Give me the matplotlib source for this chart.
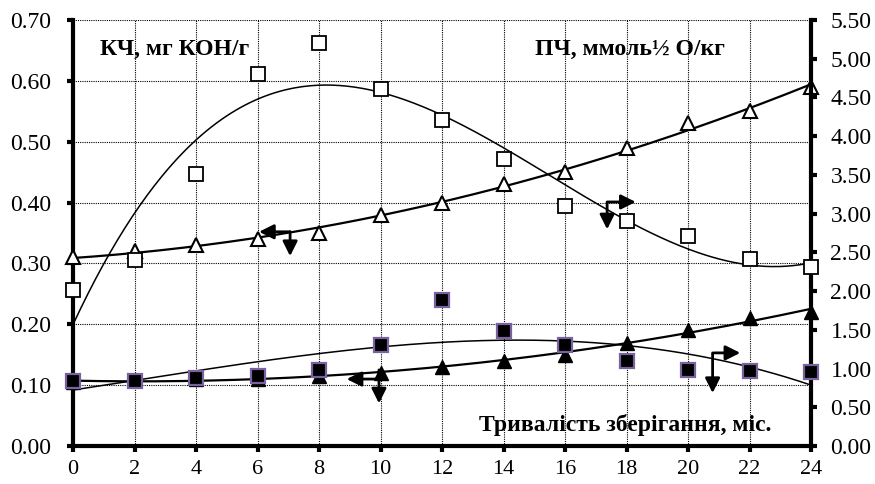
import numpy as np
import matplotlib
matplotlib.use("Agg")
import matplotlib.pyplot as plt

# ---- data ----
months = [0, 2, 4, 6, 8, 10, 12, 14, 16, 18, 20, 22, 24]
# acid value (left axis), open triangles
kch_open = [0.31, 0.32, 0.33, 0.34, 0.35, 0.38, 0.40, 0.43, 0.45, 0.49, 0.53, 0.55, 0.59]
# acid value (left axis), filled triangles
kch_filled = [0.105, 0.108, 0.11, 0.11, 0.115, 0.12, 0.13, 0.14, 0.15, 0.17, 0.19, 0.21, 0.22]
# peroxide value (right axis), open squares
pch_open = [2.01, 2.40, 3.51, 4.80, 5.20, 4.61, 4.21, 3.71, 3.10, 2.90, 2.71, 2.41, 2.31]
# peroxide value (right axis), filled squares
pch_filled = [0.84, 0.84, 0.88, 0.91, 0.98, 1.31, 1.89, 1.49, 1.30, 1.10, 0.98, 0.97, 0.96]

left_ticks = [0.0, 0.1, 0.2, 0.3, 0.4, 0.5, 0.6, 0.7]
right_ticks = [0.0, 0.5, 1.0, 1.5, 2.0, 2.5, 3.0, 3.5, 4.0, 4.5, 5.0, 5.5]
x_ticks = months

label_left = "КЧ, мг КОН/г"
label_right = "ПЧ, ммоль½ О/кг"
label_x = "Тривалість зберігання, міс."

plt.rcParams['font.family'] = ['Liberation Serif', 'DejaVu Serif']

fig = plt.figure(figsize=(8.75, 4.84), dpi=100)
ax = fig.add_axes([73/875, 1-446/484, (811-73)/875, (446-20)/484])
ax2 = ax.twinx()

x = np.array(months, dtype=float)
xs = np.linspace(0, 24, 300)

def trend(y, deg):
    c = np.polyfit(x, np.array(y, dtype=float), deg)
    return np.polyval(c, xs)

ax.set_xlim(0, 24)
ax.set_ylim(0, 0.7)
ax2.set_ylim(0, 5.5)

# grid
for xv in x_ticks:
    ax.axvline(xv, color='black', lw=0.8, ls=(0, (1, 1)), zorder=0)
for yv in left_ticks:
    ax.axhline(yv, color='black', lw=0.8, ls=(0, (1, 1)), zorder=0)

# left axis series
ax.plot(xs, trend(kch_open, 2), color='black', lw=1.6, zorder=3)
ax.plot(x, kch_open, ls='none', marker='^', ms=10, mfc='white', mec='black', mew=1.5, clip_on=False, zorder=4)
ax.plot(xs, trend(kch_filled, 2), color='black', lw=1.6, zorder=3)
ax.plot(x, kch_filled, ls='none', marker='^', ms=10, mfc='black', mec='black', clip_on=False, zorder=4)

# right axis series
ax2.plot(xs, trend(pch_open, 3), color='black', lw=1.1, zorder=3)
ax2.plot(x, pch_open, ls='none', marker='s', ms=9.5, mfc='white', mec='black', mew=1.3, clip_on=False, zorder=4)
ax2.plot(xs, trend(pch_filled, 3), color='black', lw=1.1, zorder=3)
ax2.plot(x, pch_filled, ls='none', marker='s', ms=10, mfc='black', mec='#7a62a0', mew=1.6, clip_on=False, zorder=5)

# arrows (left axis coordinates)
ap = dict(arrowstyle='-|>', lw=2, color='black', mutation_scale=22, shrinkA=0, shrinkB=0)
ax.annotate('', xy=(6.05, 0.352), xytext=(7.06, 0.352), arrowprops=ap)
ax.annotate('', xy=(7.06, 0.312), xytext=(7.06, 0.352), arrowprops=ap)
ax.annotate('', xy=(18.3, 0.401), xytext=(17.4, 0.401), arrowprops=ap)
ax.annotate('', xy=(17.37, 0.356), xytext=(17.37, 0.401), arrowprops=ap)
ax.annotate('', xy=(21.7, 0.153), xytext=(20.85, 0.153), arrowprops=ap)
ax.annotate('', xy=(20.8, 0.087), xytext=(20.8, 0.153), arrowprops=ap)
ax.annotate('', xy=(8.9, 0.110), xytext=(9.95, 0.110), arrowprops=ap)
ax.annotate('', xy=(9.95, 0.070), xytext=(9.95, 0.125), arrowprops=ap)

# texts
ax.text(0.037, 0.93, label_left, transform=ax.transAxes, fontsize=17, fontweight='bold', va='center', ha='left')
ax.text(0.626, 0.93, label_right, transform=ax.transAxes, fontsize=17, fontweight='bold', va='center', ha='left')
ax.text(0.946, 0.05, label_x, transform=ax.transAxes, fontsize=17, fontweight='bold', va='center', ha='right')

# ticks & spines
ax.set_xticks(x_ticks)
ax.set_xticklabels([str(v) for v in x_ticks])
ax.set_yticks(left_ticks)
ax.set_yticklabels([f"{v:.2f}" for v in left_ticks])
ax2.set_yticks(right_ticks)
ax2.set_yticklabels([f"{v:.2f}" for v in right_ticks])

for a in (ax, ax2):
    a.tick_params(axis='both', direction='out', length=4, width=3, labelsize=17, pad=10)
    for s in a.spines.values():
        s.set_visible(False)
ax.tick_params(axis='y', pad=12)
ax.tick_params(axis='x', pad=6, labelsize=16)
ax.spines['left'].set_visible(True)
ax.spines['bottom'].set_visible(True)
ax2.spines['right'].set_visible(True)
for s in (ax.spines['left'], ax.spines['bottom'], ax2.spines['right']):
    s.set_linewidth(3)
    s.set_zorder(2)

fig.savefig("out.png", dpi=100)
